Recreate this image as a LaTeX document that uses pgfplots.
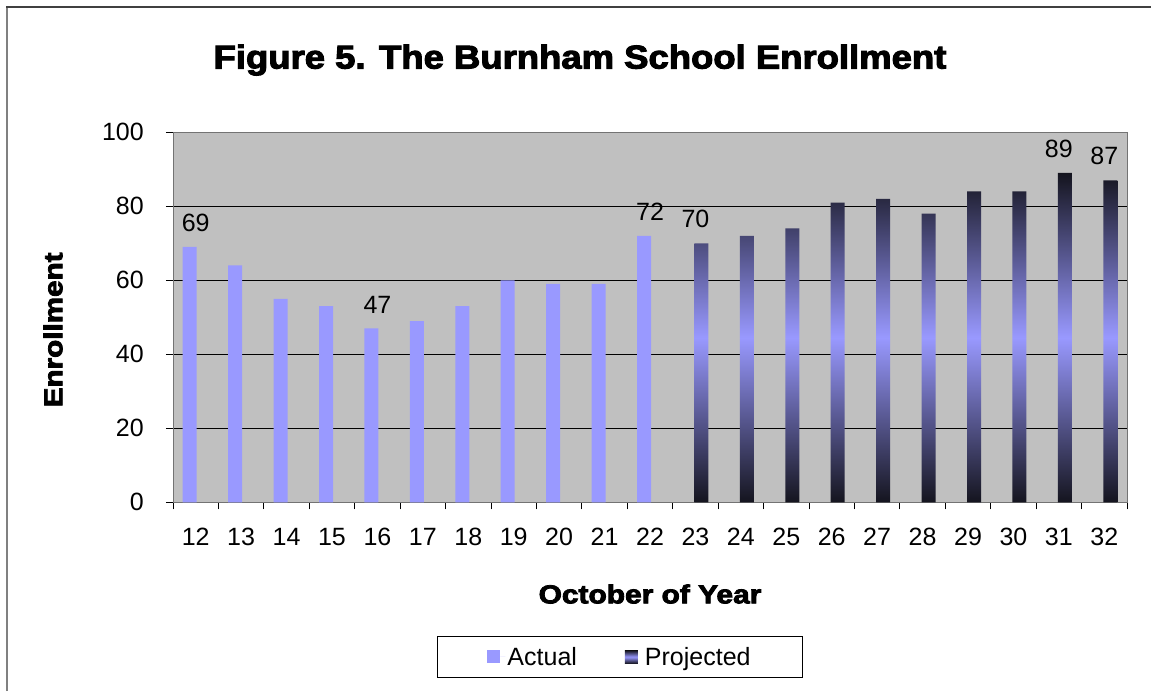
\documentclass[border=0pt]{standalone}
\usepackage{fontspec}
\setmainfont{Liberation Sans}
\newfontfamily\heavy{Liberation Sans Bold}[FakeBold=3]
\usepackage{pgfplots}
\pgfplotsset{compat=1.18}
\definecolor{actual}{HTML}{9999FF}
\definecolor{plotbg}{HTML}{C0C0C0}
\definecolor{darkbar}{HTML}{14141E}
\begin{document}
\begin{tikzpicture}[x=1pt,y=1pt]
\useasboundingbox (0,0) rectangle (1151,691);
\fill[white] (0,0) rectangle (1151,691);
\draw[line width=2pt, draw=black!50] (7,0) -- (7,684);
\draw[line width=1.5pt, draw=black!75] (6,684) -- (1151,684);
\begin{axis}[
  at={(173pt,188.7pt)}, anchor=south west, scale only axis,
  width=954pt, height=370pt,
  xmin=-0.5, xmax=20.5, ymin=0, ymax=100,
  axis background/.style={fill=plotbg},
  axis line style={draw=black!55, line width=1pt},
  ytick={0,20,...,100},
  ymajorgrids, grid style={black, line width=1pt},
  xtick={-0.5,0.5,...,20.5}, xticklabels={},
  extra x ticks={0,...,20},
  extra x tick labels={12,13,14,15,16,17,18,19,20,21,22,23,24,25,26,27,28,29,30,31,32},
  extra x tick style={major tick length=0pt, grid=none},
  tick align=outside, major tick length=7pt, tick style={black, line width=1pt},
  xtick pos=bottom, ytick pos=left,
  /pgf/number format/assume math mode=true,
  tick label style={font=\fontsize{25}{29}\selectfont},
  xticklabel style={inner sep=0pt, anchor=north, yshift=-26pt},
  yticklabel style={inner sep=0pt, anchor=east, xshift=-22pt},
  title={\heavy\scalebox{1.105}[1]{Figure 5. The Burnham School Enrollment}},
  title style={at={(axis description cs:0.4266,1.179)}, anchor=center, font=\fontsize{33}{38}\selectfont},
  xlabel={\heavy\scalebox{1.15}[1]{October of Year}},
  xlabel style={at={(axis description cs:0.5,-0.248)}, anchor=center, font=\fontsize{26}{30}\selectfont},
  ylabel={\heavy\scalebox{1.14}[1]{Enrollment}},
  ylabel style={at={(axis description cs:-0.1258,0.466)}, anchor=center, font=\fontsize{26}{30}\selectfont},
  legend columns=2,
  legend style={at={(axis description cs:0.4686,-0.418)}, anchor=center, draw=black, line width=1pt,
    font=\fontsize{25}{29}\selectfont, inner xsep=50pt, inner ysep=9pt,
    /tikz/every even column/.append style={column sep=46pt}},
  nodes near coords, point meta=explicit symbolic,
  every node near coord/.append style={font=\fontsize{25}{29}\selectfont, anchor=south, inner sep=0pt, yshift=15pt},
]
\addplot[ybar, bar width=14pt, bar shift=-6pt, fill=actual, draw=none,
  legend image code/.code={\path[fill=actual] (0pt,-6.5pt) rectangle (13pt,6.5pt);\path (13pt,0) -- (18pt,0);}]
  coordinates {(0,69) [69] (1,64) [] (2,55) [] (3,53) [] (4,47) [47] (5,49) [] (6,53) []
               (7,60) [] (8,59) [] (9,59) [] (10,72) [72]};
\addlegendentry{Actual}
\addplot[ybar, bar width=14pt, bar shift=6pt, draw=none,
  top color=darkbar, bottom color=darkbar, middle color=actual,
  legend image code/.code={\path[top color=darkbar, bottom color=darkbar, middle color=actual] (0pt,-6.5pt) rectangle (13pt,6.5pt);\path (13pt,0) -- (18pt,0);}]
  coordinates {(11,70) [70] (12,72) [] (13,74) [] (14,81) [] (15,82) [] (16,78) [] (17,84) []
               (18,84) [] (19,89) [89] (20,87) [87]};
\addlegendentry{Projected}
\end{axis}
\end{tikzpicture}
\end{document}
